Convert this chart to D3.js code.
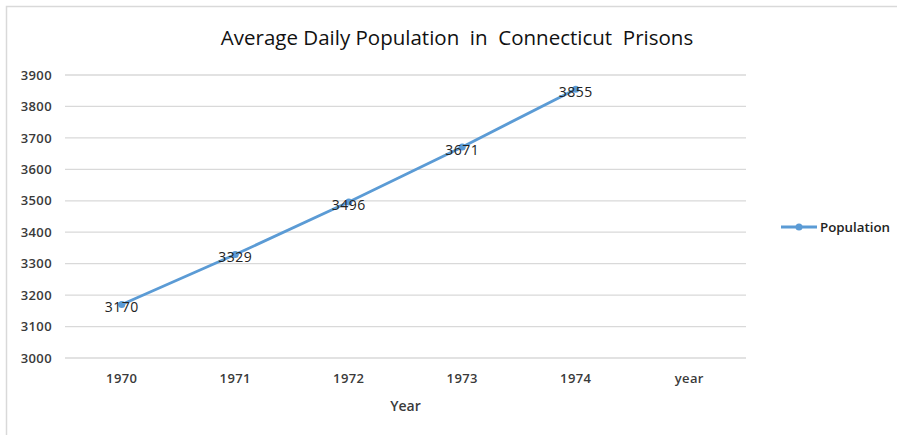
<!DOCTYPE html>
<html>
<head>
<meta charset="utf-8">
<script src="https://cdn.jsdelivr.net/npm/d3@7"></script>
<style>
  body { margin: 0; background: #fff; }
  svg { display: block; font-family: "Open Sans", "Noto Sans", sans-serif; }
</style>
</head>
<body>
<div id="chart"></div>
<script>
"use strict";

var years = ["1970", "1971", "1972", "1973", "1974", "year"];
var population = [3170, 3329, 3496, 3671, 3855];
var yTicks = [3000, 3100, 3200, 3300, 3400, 3500, 3600, 3700, 3800, 3900];
var seriesName = "Population";

var W = 897, H = 435,
    plotLeft = 65, plotRight = 746, plotTop = 75, plotBottom = 358,
    blue = "#5b9bd5", textColor = "#3a3a3a";

var svg = d3.select("#chart").append("svg")
    .attr("width", W)
    .attr("height", H);

// chart area border (only left and top edges show)
svg.append("rect")
    .attr("x", 6.5).attr("y", 6.5)
    .attr("width", W + 10).attr("height", H + 10)
    .attr("fill", "#fff")
    .attr("stroke", "#d9d9d9")
    .attr("stroke-width", 1.5);

var x = d3.scaleBand().domain(years).range([plotLeft, plotRight]),
    y = d3.scaleLinear().domain([3000, 3900]).range([plotBottom, plotTop]);

// gridlines
svg.append("g")
    .selectAll("line")
    .data(yTicks)
    .enter()
    .append("line")
    .attr("x1", plotLeft).attr("x2", plotRight)
    .attr("y1", function (d) { return y(d); })
    .attr("y2", function (d) { return y(d); })
    .attr("stroke", "#d9d9d9")
    .attr("stroke-width", 1.3);

var styleTicks = function (g) {
    g.select(".domain").remove();
    g.selectAll("text")
        .attr("font-size", 13)
        .attr("font-weight", 600)
        .attr("letter-spacing", 0.4)
        .attr("font-family", "'Open Sans', sans-serif")
        .attr("fill", textColor);
};

// y axis labels
var yAxis = d3.axisLeft(y).tickValues(yTicks).tickFormat(d3.format("d")).tickSize(0).tickPadding(13);
svg.append("g").attr("transform", "translate(" + plotLeft + ",0)").call(yAxis).call(styleTicks);

// x axis labels
var xAxis = d3.axisBottom(x).tickSize(0).tickPadding(16);
svg.append("g").attr("transform", "translate(0," + plotBottom + ")").call(xAxis).call(styleTicks);

var cx = function (d, i) { return x(years[i]) + x.bandwidth() / 2; };

// line
var line = d3.line()
    .x(function (d, i) { return cx(d, i); })
    .y(function (d) { return y(d); });

svg.append("path")
    .datum(population)
    .attr("d", line)
    .attr("fill", "none")
    .attr("stroke", blue)
    .attr("stroke-width", 2.8)
    .attr("stroke-linecap", "round");

svg.append("g")
    .selectAll("circle")
    .data(population)
    .enter()
    .append("circle")
    .attr("cx", cx)
    .attr("cy", function (d) { return y(d); })
    .attr("r", 3.5)
    .attr("fill", blue);

// data labels
svg.append("g")
    .selectAll("text")
    .data(population)
    .enter()
    .append("text")
    .text(function (d) { return d; })
    .attr("x", cx)
    .attr("y", function (d) { return y(d) + 7.5; })
    .attr("text-anchor", "middle")
    .attr("font-size", 14)
    .attr("letter-spacing", 0.5)
    .attr("fill", "#222");

// title
svg.append("text")
    .text("Average Daily Population  in  Connecticut  Prisons")
    .attr("x", 457).attr("y", 45)
    .attr("text-anchor", "middle")
    .attr("font-size", 20.5)
    .attr("fill", "#111")
    .style("white-space", "pre");

// axis title
svg.append("text")
    .text("Year")
    .attr("x", (plotLeft + plotRight) / 2).attr("y", 411)
    .attr("text-anchor", "middle")
    .attr("font-size", 14)
    .attr("font-weight", 600)
    .attr("fill", textColor);

// legend
var lg = svg.append("g").attr("transform", "translate(781,227)");
lg.append("line")
    .attr("x1", 0).attr("x2", 36)
    .attr("stroke", blue)
    .attr("stroke-width", 2.8);
lg.append("circle")
    .attr("cx", 18).attr("r", 3.5)
    .attr("fill", blue);
lg.append("text")
    .text(seriesName)
    .attr("x", 39).attr("y", 4.5)
    .attr("font-size", 13.3)
    .attr("font-weight", 600)
    .attr("fill", "#222");
</script>
</body>
</html>
